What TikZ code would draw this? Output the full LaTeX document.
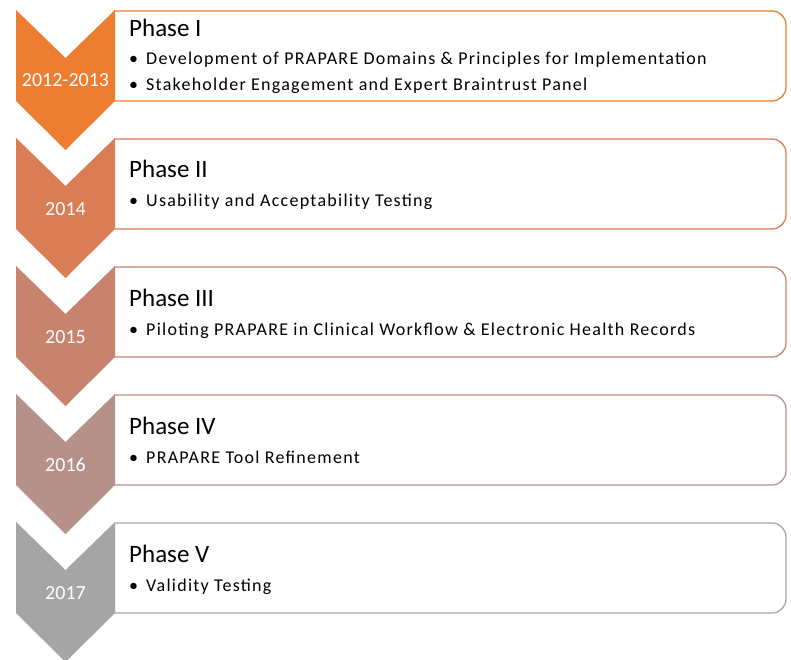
\documentclass[tikz,border=0pt]{standalone}
\usepackage{fontspec}
\setmainfont{Carlito}
\definecolor{phaseA}{HTML}{ED7D31}
\definecolor{phaseB}{HTML}{DA7C54}
\definecolor{phaseC}{HTML}{C8836F}
\definecolor{phaseD}{HTML}{B6918A}
\definecolor{phaseE}{HTML}{A5A5A5}
\newcommand{\phaseitem}[1]{\makebox[17pt][l]{\textbullet}#1}

\begin{document}
\begin{tikzpicture}[x=1pt,y=-1pt,
  chev/.style={fill=#1,draw=none},
  frame/.style={draw=#1,line width=1.3pt,fill=white,rounded corners=14pt},
  year/.style={text=white,inner sep=0pt,font=\fontsize{20}{24}\selectfont},
  title/.style={anchor=base west,inner sep=0pt,font=\fontsize{25}{30}\selectfont},
  item/.style={anchor=base west,inner sep=0pt,font=\fontsize{18}{22}\selectfont\addfontfeature{LetterSpace=7}}]
\useasboundingbox (0,0) rectangle (791,660);
% phase I
\draw[frame=phaseA](115,11)--(786,11)--(786,101)--(115,101);
\fill[chev=phaseA](16,10)--(65.5,58)--(115,10)--(115,101)--(65.5,150)--(16,101)--cycle;
\node[year] (year1) at (65.5,80) {2012-2013};
\node[title] (phase1) at (129,37) {Phase I};
\node[item] (item1a) at (129,65) {\phaseitem{Development of PRAPARE Domains \& Principles for Implementation}};
\node[item] (item1b) at (129,91) {\phaseitem{Stakeholder Engagement and Expert Braintrust Panel}};
% phase II
\draw[frame=phaseB](115,139)--(786,139)--(786,229)--(115,229);
\fill[chev=phaseB](16,138)--(65.5,186)--(115,138)--(115,229)--(65.5,278)--(16,229)--cycle;
\node[year] (year2) at (65.5,209) {2014};
\node[title] (phase2) at (129,178) {Phase II};
\node[item] (item2a) at (129,207) {\phaseitem{Usability and Acceptability Testing}};
% phase III
\draw[frame=phaseC](115,267)--(786,267)--(786,357)--(115,357);
\fill[chev=phaseC](16,266)--(65.5,314)--(115,266)--(115,357)--(65.5,406)--(16,357)--cycle;
\node[year] (year3) at (65.5,337) {2015};
\node[title] (phase3) at (129,306) {Phase III};
\node[item] (item3a) at (129,335) {\phaseitem{Piloting PRAPARE in Clinical Workflow \& Electronic Health Records}};
% phase IV
\draw[frame=phaseD](115,395)--(786,395)--(786,485)--(115,485);
\fill[chev=phaseD](16,394)--(65.5,442)--(115,394)--(115,485)--(65.5,534)--(16,485)--cycle;
\node[year] (year4) at (65.5,465) {2016};
\node[title] (phase4) at (129,434) {Phase IV};
\node[item] (item4a) at (129,463) {\phaseitem{PRAPARE Tool Refinement}};
% phase V
\draw[frame=phaseE](115,523)--(786,523)--(786,613)--(115,613);
\fill[chev=phaseE](16,522)--(65.5,570)--(115,522)--(115,613)--(65.5,662)--(16,613)--cycle;
\node[year] (year5) at (65.5,593) {2017};
\node[title] (phase5) at (129,562) {Phase V};
\node[item] (item5a) at (129,591) {\phaseitem{Validity Testing}};
\end{tikzpicture}
\end{document}
